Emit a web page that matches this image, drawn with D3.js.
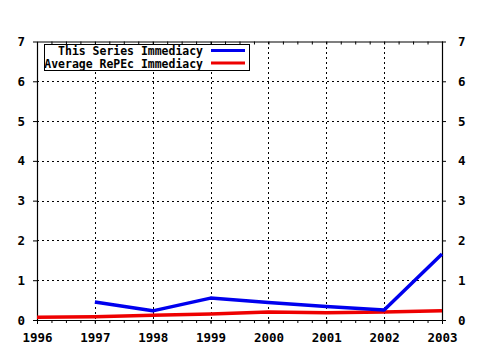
<!DOCTYPE html>
<html>
<head>
<meta charset="utf-8">
<script src="https://cdn.jsdelivr.net/npm/d3@7"></script>
<style>
  html, body { margin: 0; padding: 0; background: #fff; }
  svg { display: block; }
  text { font-family: "DejaVu Sans Mono", monospace; font-weight: bold; fill: #000; }
</style>
</head>
<body>
<script>
// Yearly immediacy figures
const years = [1996, 1997, 1998, 1999, 2000, 2001, 2002, 2003];
const seriesYears = [1997, 1998, 1999, 2000, 2001, 2002, 2003];
const seriesValues = [0.45, 0.23, 0.55, 0.44, 0.34, 0.25, 1.66];
const averageValues = [0.07, 0.08, 0.12, 0.15, 0.20, 0.18, 0.20, 0.23];
const yTicks = [0, 1, 2, 3, 4, 5, 6, 7];
const legendLabels = ["This Series Immediacy", "Average RePEc Immediacy"];
const legendColors = ["#0000ee", "#ee0000"];

const W = 480, H = 350;
const svg = d3.select("body").append("svg").attr("width", W).attr("height", H);

const x = d3.scaleLinear().domain([1996, 2003]).range([37, 442]);
const y = d3.scaleLinear().domain([0, 7]).range([320, 41.5]);

const quarters = d3.range(1996, 2003.001, 0.25);

// dotted grid
const grid = svg.append("g").attr("stroke", "#000").attr("stroke-width", 1)
  .attr("stroke-dasharray", "2,3").attr("shape-rendering", "crispEdges");
grid.selectAll("line.v").data(years.slice(1, -1)).join("line")
  .attr("x1", d => Math.round(x(d)) + 0.5).attr("x2", d => Math.round(x(d)) + 0.5)
  .attr("y1", y(7)).attr("y2", y(0));
grid.selectAll("line.h").data(yTicks.slice(1, -1)).join("line")
  .attr("y1", d => Math.round(y(d)) + 0.5).attr("y2", d => Math.round(y(d)) + 0.5)
  .attr("x1", x(1996)).attr("x2", x(2003));

function styleAxis(g) {
  g.select(".domain").attr("stroke", "#000").attr("stroke-width", 1.2);
  g.selectAll(".tick line").attr("stroke", "#000");
  g.selectAll("text").style("font-size", "12.5px").attr("fill", "#000");
}

// bottom axis: quarter minor ticks, then year labels
svg.append("g").attr("transform", `translate(0,${y(0)})`)
  .call(d3.axisBottom(x).tickValues(quarters).tickSize(3).tickFormat("").tickSizeOuter(0))
  .call(styleAxis);
svg.append("g").attr("transform", `translate(0,${y(0)})`)
  .call(d3.axisBottom(x).tickValues(years).tickSize(4).tickPadding(9).tickFormat(d3.format("d")).tickSizeOuter(0))
  .call(styleAxis)
  .call(g => g.select(".domain").remove());

// top border with inward minor ticks
svg.append("g").attr("transform", `translate(0,${y(7)})`)
  .call(d3.axisTop(x).tickValues(quarters).tickSize(-3).tickFormat("").tickSizeOuter(0))
  .call(styleAxis);

// left and right value axes
svg.append("g").attr("transform", `translate(${x(1996)},0)`)
  .call(d3.axisLeft(y).tickValues(yTicks).tickSize(4).tickPadding(8).tickFormat(d3.format("d")).tickSizeOuter(0))
  .call(styleAxis);
svg.append("g").attr("transform", `translate(${x(2003)},0)`)
  .call(d3.axisRight(y).tickValues(yTicks).tickSize(4).tickPadding(12).tickFormat(d3.format("d")).tickSizeOuter(0))
  .call(styleAxis);

// lines
const line = d3.line().x(d => x(d[0])).y(d => y(d[1]));
svg.append("path")
  .datum(years.map((yr, i) => [yr, averageValues[i]]))
  .attr("d", line).attr("fill", "none").attr("stroke", legendColors[1])
  .attr("stroke-width", 3.5).attr("stroke-linejoin", "round");
svg.append("path")
  .datum(seriesYears.map((yr, i) => [yr, seriesValues[i]]))
  .attr("d", line).attr("fill", "none").attr("stroke", legendColors[0])
  .attr("stroke-width", 3.5).attr("stroke-linejoin", "round");

// legend
const lg = svg.append("g");
lg.append("rect").attr("x", 44.5).attr("y", 44.5).attr("width", 205).attr("height", 26)
  .attr("fill", "#fff").attr("stroke", "#000").attr("stroke-width", 1);
legendLabels.forEach((lab, i) => {
  const cy = 50.5 + i * 12.5;
  lg.append("text").attr("x", 203).attr("y", cy + 4.5)
    .attr("text-anchor", "end").style("font-size", "12px")
    .attr("textLength", lab.length * 6.9).attr("lengthAdjust", "spacingAndGlyphs")
    .text(lab);
  lg.append("line").attr("x1", 211).attr("x2", 245).attr("y1", cy).attr("y2", cy)
    .attr("stroke", legendColors[i]).attr("stroke-width", 3);
});
</script>
</body>
</html>
